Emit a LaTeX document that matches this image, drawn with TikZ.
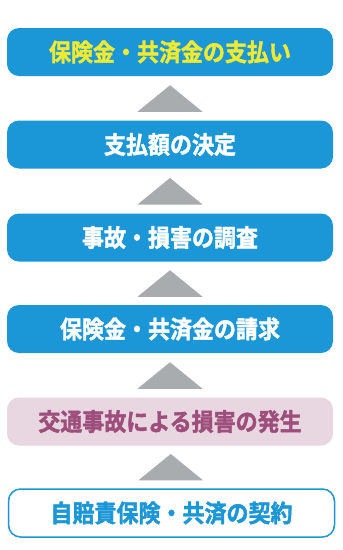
\documentclass[tikz,border=0pt]{standalone}
\usepackage{fontspec}
\usepackage{graphicx}
\newfontfamily\cjk{Noto Sans CJK JP}[BoldFont={Noto Sans CJK JP Bold}, BoldFeatures={FakeBold=1.8}]
\usetikzlibrary{calc}
\newcommand{\tallt}[1]{\scalebox{1}[1.1]{#1}}
\definecolor{bblue}{RGB}{27,150,214}
\definecolor{tyellow}{RGB}{240,234,50}
\definecolor{pinkfill}{RGB}{232,214,224}
\definecolor{pinktext}{RGB}{158,78,124}
\definecolor{trigray}{RGB}{168,172,175}
\tikzset{
  stepbox/.style={rectangle, rounded corners=12pt, minimum width=326pt, minimum height=48pt, inner sep=0pt,
    font=\cjk\bfseries\fontsize{22pt}{22pt}\selectfont},
  bluebox/.style={stepbox, fill=bblue, text=white},
  pinkbox/.style={stepbox, fill=pinkfill, text=pinktext},
  outbox/.style={stepbox, draw=bblue, line width=1.5pt, fill=white, text=bblue},
  tri/.style={fill=trigray}
}
\begin{document}
\begin{tikzpicture}[x=1pt,y=-1pt]
\useasboundingbox[fill=white] (0,0) rectangle (343,550);
\node[bluebox, text=tyellow] (b1) at (170,52) {\tallt{保険金・共済金の支払い}};
\node[bluebox] (b2) at (170,144.5) {\tallt{支払額の決定}};
\node[bluebox] (b3) at (170,237.5) {\tallt{事故・損害の調査}};
\node[bluebox] (b4) at (170,329) {\tallt{保険金・共済金の請求}};
\node[pinkbox] (b5) at (170,421.5) {\tallt{交通事故による損害の発生}};
\node[outbox] (b6) at (171.5,513) {\tallt{自賠責保険・共済の契約}};
\foreach \lo/\hi in {b2/b1,b3/b2,b4/b3,b5/b4,b6/b5}{
  \coordinate (m) at ($(\lo.north)!0.5!(\hi.south)$);
  \fill[tri] ($(m)+(-32.5,13.5)$) -- ($(m)+(0,-13)$) -- ($(m)+(32.5,13.5)$) -- cycle;
}
\end{tikzpicture}
\end{document}
